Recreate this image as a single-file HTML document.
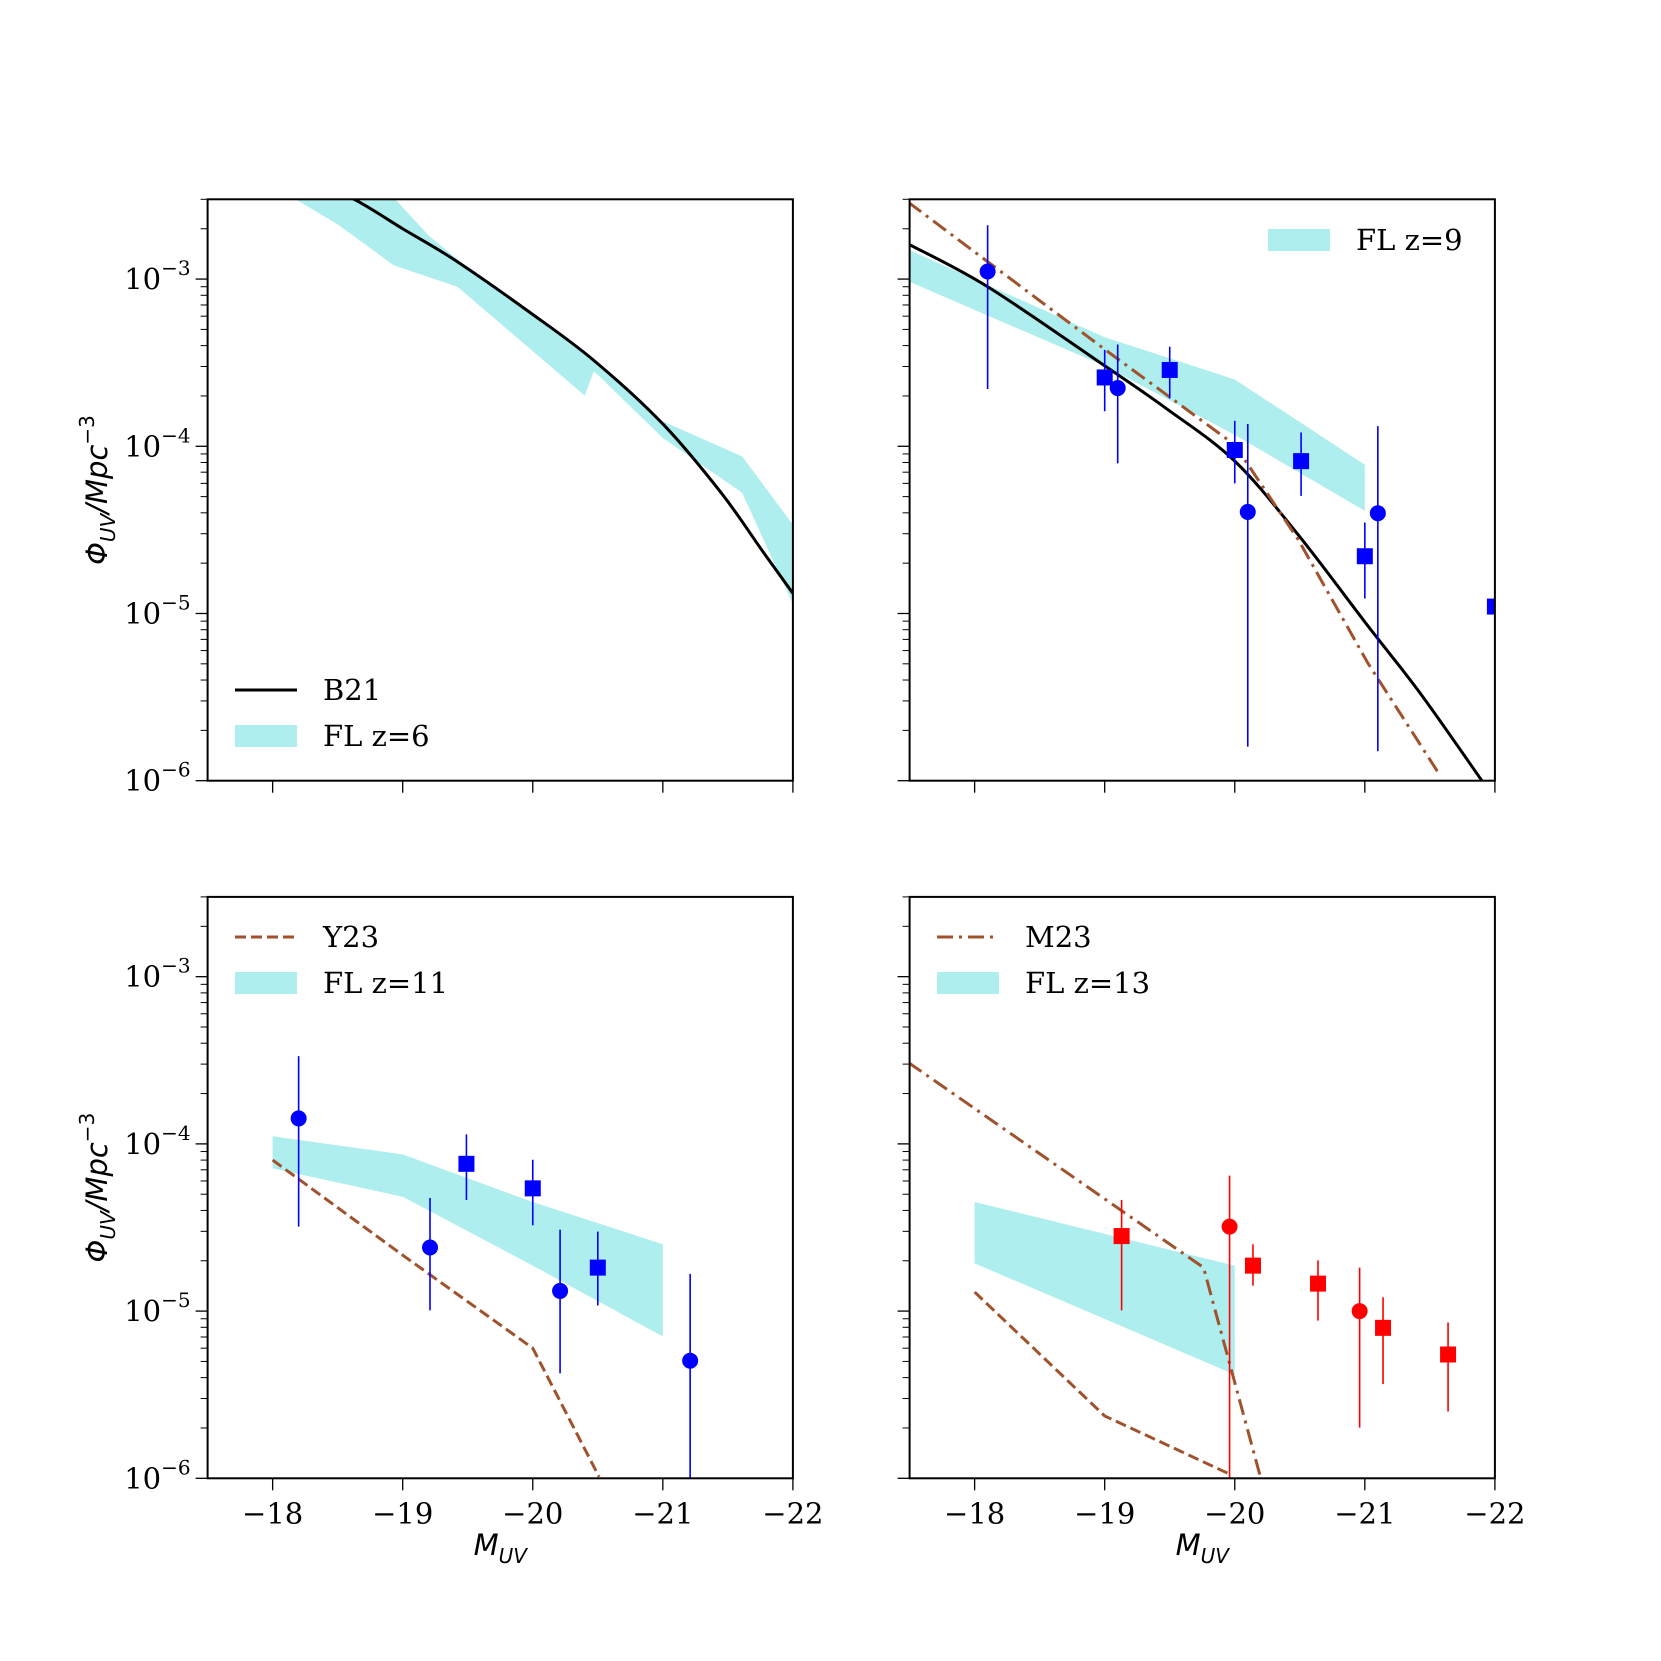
<!DOCTYPE html>
<html><head><meta charset="utf-8"><style>
html,body{margin:0;padding:0;background:#fff;}
svg{display:block;}
text{font-family:"DejaVu Serif","Liberation Serif",serif;fill:#000;}
.lab{font-family:"DejaVu Sans","Liberation Sans",sans-serif;font-style:italic;}
</style></head><body>
<svg id="fig" xmlns="http://www.w3.org/2000/svg" width="1661" height="1661" viewBox="0 0 1661 1661"></svg>
<script>
// ---- data ----
const xTicks=[-18,-19,-20,-21,-22];
const yDecades=[-6,-5,-4,-3];
// panel 1 (z=6)
const b21z6X=[-18.3,-18.63,-19.0,-19.40,-19.98,-20.47,-21.0,-21.45,-21.77,-22.0];
const b21z6Y=[3.8e-3,2.99e-3,2.0e-3,1.30e-3,6.3e-4,3.26e-4,1.36e-4,5.25e-5,2.34e-5,1.32e-5];
const fl6UpX=[-18.18,-18.91,-19.2,-19.5,-20.0,-20.5,-21.0,-21.61,-22.0];
const fl6UpY=[4e-3,3.2e-3,1.82e-3,1.17e-3,6.3e-4,3.16e-4,1.41e-4,8.7e-5,3.4e-5];
const fl6LoX=[-18.18,-18.51,-18.93,-19.42,-20.40,-20.47,-21.0,-21.61,-22.0];
const fl6LoY=[2.99e-3,2.1e-3,1.21e-3,9.0e-4,2.01e-4,2.82e-4,1.12e-4,5.27e-5,1.14e-5];
// panel 2 (z=9)
const fl9X=[-17.49,-19.0,-20.0,-21.0];
const fl9Up=[1.5e-3,4.49e-4,2.51e-4,7.76e-5];
const fl9Lo=[9.7e-4,3.02e-4,1.17e-4,4.11e-5];
const b21z9X=[-17.49,-18.10,-19.0,-19.47,-20.0,-20.49,-21.02,-21.43,-21.90];
const b21z9Y=[1.62e-3,9.0e-4,3.03e-4,1.69e-4,8.15e-5,2.94e-5,8.5e-6,3.3e-6,1.0e-6];
const m23z9X=[-17.49,-19.0,-20.0,-20.49,-21.02,-21.58];
const m23z9Y=[2.88e-3,3.8e-4,1.02e-4,2.75e-5,5.1e-6,1.07e-6];
const z9CircX=[-18.10,-19.10,-20.10,-21.10];
const z9CircY=[1.11e-3,2.23e-4,4.05e-5,3.98e-5];
const z9CircHi=[2.1e-3,4.06e-4,1.36e-4,1.32e-4];
const z9CircLo=[2.2e-4,7.9e-5,1.6e-6,1.5e-6];
const z9SqX=[-19.0,-19.50,-20.0,-20.51,-21.0,-22.0];
const z9SqY=[2.58e-4,2.86e-4,9.5e-5,8.15e-5,2.2e-5,1.1e-5];
const z9SqHi=[3.77e-4,3.94e-4,1.42e-4,1.21e-4,3.5e-5,1.1e-5];
const z9SqLo=[1.62e-4,1.93e-4,6.0e-5,5.05e-5,1.23e-5,1.1e-5];
// panel 3 (z=11)
const fl11X=[-18,-19,-20,-21];
const fl11Up=[1.11e-4,8.65e-5,4.49e-5,2.51e-5];
const fl11Lo=[7.14e-5,4.83e-5,1.87e-5,7.05e-6];
const y23z11X=[-18,-19,-20,-20.51];
const y23z11Y=[8.0e-5,2.16e-5,6.0e-6,1.02e-6];
const z11CircX=[-18.2,-19.21,-20.21,-21.21];
const z11CircY=[1.42e-4,2.4e-5,1.32e-5,5.05e-6];
const z11CircHi=[3.35e-4,4.75e-5,3.07e-5,1.67e-5];
const z11CircLo=[3.2e-5,1.01e-5,4.24e-6,1.0e-6];
const z11SqX=[-19.49,-20.0,-20.50];
const z11SqY=[7.6e-5,5.42e-5,1.82e-5];
const z11SqHi=[1.14e-4,8.04e-5,2.99e-5];
const z11SqLo=[4.62e-5,3.26e-5,1.08e-5];
// panel 4 (z=13)
const fl13X=[-18,-20];
const fl13Up=[4.49e-5,1.87e-5];
const fl13Lo=[1.93e-5,4.17e-6];
const y23z13X=[-18,-19,-19.96];
const y23z13Y=[1.3e-5,2.36e-6,1.06e-6];
const m23z13X=[-17.49,-19.76,-20.2];
const m23z13Y=[3.07e-4,1.82e-5,1.0e-6];
const z13SqX=[-19.13,-20.14,-20.64,-21.14,-21.64];
const z13SqY=[2.81e-5,1.87e-5,1.46e-5,7.94e-6,5.5e-6];
const z13SqHi=[4.62e-5,2.51e-5,2.01e-5,1.21e-5,8.55e-6];
const z13SqLo=[1.01e-5,1.42e-5,8.77e-6,3.66e-6,2.51e-6];
const z13CircX=[-19.96,-20.96];
const z13CircY=[3.2e-5,1.0e-5];
const z13CircHi=[6.46e-5,1.82e-5];
const z13CircLo=[1.0e-6,2.01e-6];

// ---- layout ----
const NS='http://www.w3.org/2000/svg';
const svg=document.getElementById('fig');
const W=585.3,H=581.4;
const panels=[
 {x0:207.6,y0:199.3,id:'z6'},{x0:909.6,y0:199.3,id:'z9'},
 {x0:207.6,y0:896.9,id:'z11'},{x0:909.6,y0:896.9,id:'z13'}];
const XMIN=-17.5,XMAX=-22,LMIN=-6,LMAX=Math.log10(3e-3);
function mk(tag,attrs,parent){const e=document.createElementNS(NS,tag);for(const k in attrs)e.setAttribute(k,attrs[k]);(parent||svg).appendChild(e);return e;}
function sx(p,v){return p.x0+(v-XMIN)/(XMAX-XMIN)*W;}
function sy(p,v){return p.y0+(LMAX-Math.log10(v))/(LMAX-LMIN)*H;}
const CYAN='#afeeee',BROWN='#a0522d';

function band(p,g,xs,up,lo,xl,name){
  let d='';xs.forEach((x,i)=>{d+=(i?'L':'M')+sx(p,x)+','+sy(p,up[i]);});
  for(let i=xl.length-1;i>=0;i--)d+='L'+sx(p,xl[i])+','+sy(p,lo[i]);
  const e=mk('path',{d:d+'Z',fill:CYAN,stroke:'none'},g);
  
  
}
function line(p,g,xs,ys,dash,color,name){
  const pts=xs.map((x,i)=>sx(p,x)+','+sy(p,ys[i])).join(' ');
  const e=mk('polyline',{points:pts,fill:'none',stroke:color,'stroke-width':3,'stroke-dasharray':dash||'none'},g);
  
  
}
function smoothLine(p,g,xs,ys,color,name){
  const P=xs.map((x,i)=>[sx(p,x),sy(p,ys[i])]);
  let d='M'+P[0][0]+','+P[0][1];
  for(let i=0;i<P.length-1;i++){
    const p0=P[Math.max(0,i-1)],p1=P[i],p2=P[i+1],p3=P[Math.min(P.length-1,i+2)];
    const c1=[p1[0]+(p2[0]-p0[0])/6,p1[1]+(p2[1]-p0[1])/6];
    const c2=[p2[0]-(p3[0]-p1[0])/6,p2[1]-(p3[1]-p1[1])/6];
    d+='C'+c1[0]+','+c1[1]+' '+c2[0]+','+c2[1]+' '+p2[0]+','+p2[1];
  }
  const e=mk('path',{d:d,fill:'none',stroke:color,'stroke-width':3},g);
  
  
}
function points(p,g,xs,ys,hi,lo,shape,color,name){
  xs.forEach((x,i)=>{
    const cx=sx(p,x),cy=sy(p,ys[i]);
    const eb=mk('line',{x1:cx,x2:cx,y1:sy(p,hi[i]),y2:sy(p,lo[i]),stroke:color,'stroke-width':1.6},g);
    
    
    let m;
    if(shape==='c')m=mk('circle',{cx:cx,cy:cy,r:8,fill:color},g);
    else m=mk('rect',{x:cx-8,y:cy-8,width:16,height:16,fill:color},g);
    
    
  });
}
function axes(p,showX,showY){
  const g=mk('g',{});
  
  
  xTicks.forEach(t=>{
    const x=sx(p,t);
    mk('line',{x1:x,x2:x,y1:p.y0+H,y2:p.y0+H+12,stroke:'#000','stroke-width':1.3},g);
    if(showX){const tx=mk('text',{x:x,y:p.y0+H+45,'text-anchor':'middle','font-size':29},g);tx.textContent='\u2212'+(-t);
      
      }
  });
  yDecades.forEach(d=>{
    const y=sy(p,Math.pow(10,d));
    mk('line',{x1:p.x0-12,x2:p.x0,y1:y,y2:y,stroke:'#000','stroke-width':1.3},g);
    if(showY){const tx=mk('text',{x:p.x0-17,y:y+10,'text-anchor':'end','font-size':29},g);
      tx.innerHTML='10<tspan dy="-14" font-size="20">\u2212'+(-d)+'</tspan>';
      
      }
    for(let k=2;k<=9;k++){const v=k*Math.pow(10,d);if(Math.log10(v)>LMAX)break;
      const yy=sy(p,v);mk('line',{x1:p.x0-7,x2:p.x0,y1:yy,y2:yy,stroke:'#000','stroke-width':1},g);}
  });
  mk('rect',{x:p.x0,y:p.y0,width:W,height:H,fill:'none',stroke:'#000','stroke-width':2},g);
  if(showY){const t=mk('text',{class:'lab',x:0,y:0,'font-size':29,'text-anchor':'middle',transform:'translate(107,'+(p.y0+H/2)+') rotate(-90)'},g);
    t.innerHTML='\u03A6<tspan dy="8" font-size="20">UV</tspan><tspan dy="-8">/Mpc</tspan><tspan dy="-13" font-size="20" font-style="normal">\u22123</tspan>';
    
    }
  if(showX){const t=mk('text',{class:'lab',x:p.x0+W/2,y:1555,'font-size':29,'text-anchor':'middle'},g);
    t.innerHTML='M<tspan dy="8" font-size="20">UV</tspan>';
    
    }
}
function plotGroup(p){
  const cp=mk('clipPath',{id:'clip'+p.id});
  mk('rect',{x:p.x0,y:p.y0,width:W,height:H},cp);
  const g=mk('g',{'clip-path':'url(#clip'+p.id+')'});
  
  
  return g;
}
function legend(p,lx,ly,items){
  const g=mk('g',{});
  
  
  items.forEach((it,i)=>{
    const y=ly+i*46;
    if(it.type==='band')mk('rect',{x:lx,y:y-11,width:62,height:22,fill:CYAN},g);
    else mk('line',{x1:lx,x2:lx+62,y1:y,y2:y,stroke:it.color,'stroke-width':3,'stroke-dasharray':it.dash||'none'},g);
    const t=mk('text',{x:lx+88,y:y+10,'font-size':29},g);t.textContent=it.label;
    
    
  });
}
const DASH='11,5', DASHDOT='16,6,3,6';
// panel 1
let p=panels[0],g=plotGroup(p);
band(p,g,fl6UpX,fl6UpY,fl6LoY,fl6LoX,'fl-z6-band');
smoothLine(p,g,b21z6X,b21z6Y,'#000','b21-line');
axes(p,false,true);
legend(p,235,690,[{type:'line',color:'#000',label:'B21'},{type:'band',label:'FL z=6'}]);
// panel 2
p=panels[1];g=plotGroup(p);
band(p,g,fl9X,fl9Up,fl9Lo,fl9X,'fl-z9-band');
smoothLine(p,g,b21z9X,b21z9Y,'#000','b21-line');
line(p,g,m23z9X,m23z9Y,DASHDOT,BROWN,'m23-line');
points(p,g,z9CircX,z9CircY,z9CircHi,z9CircLo,'c','#0000ff','z9-circle-point');
points(p,g,z9SqX,z9SqY,z9SqHi,z9SqLo,'s','#0000ff','z9-square-point');
axes(p,false,false);
legend(p,1268,240,[{type:'band',label:'FL z=9'}]);
// panel 3
p=panels[2];g=plotGroup(p);
band(p,g,fl11X,fl11Up,fl11Lo,fl11X,'fl-z11-band');
line(p,g,y23z11X,y23z11Y,DASH,BROWN,'y23-line');
points(p,g,z11CircX,z11CircY,z11CircHi,z11CircLo,'c','#0000ff','z11-circle-point');
points(p,g,z11SqX,z11SqY,z11SqHi,z11SqLo,'s','#0000ff','z11-square-point');
axes(p,true,true);
legend(p,235,937,[{type:'line',color:BROWN,dash:DASH,label:'Y23'},{type:'band',label:'FL z=11'}]);
// panel 4
p=panels[3];g=plotGroup(p);
band(p,g,fl13X,fl13Up,fl13Lo,fl13X,'fl-z13-band');
line(p,g,y23z13X,y23z13Y,DASH,BROWN,'y23-line');
line(p,g,m23z13X,m23z13Y,DASHDOT,BROWN,'m23-line');
points(p,g,z13CircX,z13CircY,z13CircHi,z13CircLo,'c','#ff0000','z13-circle-point');
points(p,g,z13SqX,z13SqY,z13SqHi,z13SqLo,'s','#ff0000','z13-square-point');
axes(p,true,false);
legend(p,937,937,[{type:'line',color:BROWN,dash:DASHDOT,label:'M23'},{type:'band',label:'FL z=13'}]);
</script>
</body></html>
